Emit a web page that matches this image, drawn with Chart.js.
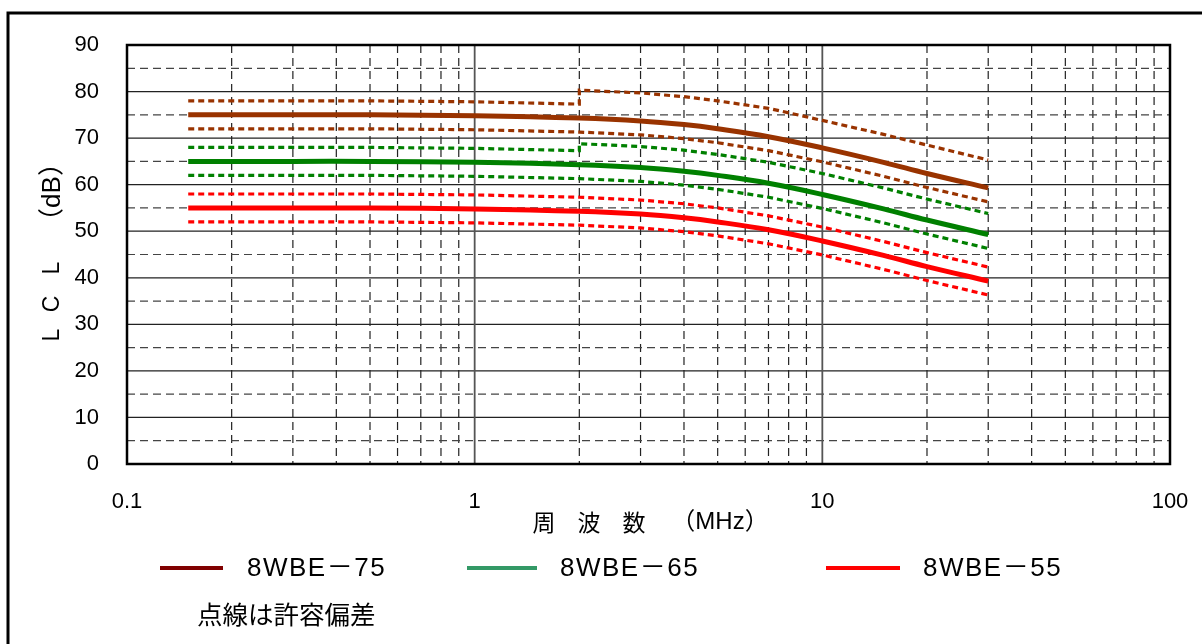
<!DOCTYPE html>
<html>
<head>
<meta charset="utf-8">
<script src="https://cdn.jsdelivr.net/npm/chart.js@4.4.0/dist/chart.umd.min.js"></script>
<style>
  body { margin: 0; background: #fff; }
  #wrap { width: 1202px; height: 644px; }
</style>
</head>
<body>
<div id="wrap"><canvas id="lcl" width="1202" height="644"></canvas></div>
<script>
// LCL vs frequency, 8WBE cables
const freq = [0.15, 0.3, 0.5, 1, 2, 3, 4, 5, 7, 10, 15, 20, 30];
const freqStep = [0.15, 0.3, 0.5, 1, 2, 2, 3, 4, 5, 7, 10, 15, 20, 30];

const lcl75 = [75, 75, 75, 74.8, 74.3, 73.7, 72.9, 72.0, 70.3, 67.9, 64.8, 62.4, 59.3];
const lcl65 = [65, 65, 65, 64.8, 64.3, 63.7, 62.9, 62.0, 60.3, 57.9, 54.8, 52.4, 49.3];
const lcl55 = [55, 55, 55, 54.8, 54.3, 53.7, 52.9, 52.0, 50.3, 47.9, 44.8, 42.4, 39.3];

// tolerance (dotted); upper limits of 75 and 65 step up at 2 MHz
const upper75 = [78, 78, 78, 77.8, 77.3, 80.3, 79.7, 78.9, 78.0, 76.4, 73.8, 70.8, 68.5, 65.3];
const lower75 = [72, 72, 72, 71.8, 71.3, 70.7, 69.9, 69.0, 67.3, 64.9, 61.8, 59.4, 56.3];
const upper65 = [68, 68, 68, 67.8, 67.3, 68.8, 68.2, 67.4, 66.5, 64.8, 62.4, 59.3, 56.9, 53.8];
const lower65 = [62, 62, 62, 61.8, 61.3, 60.7, 59.9, 59.0, 57.3, 54.9, 51.8, 49.4, 46.3];
const upper55 = [58, 58, 58, 57.8, 57.3, 56.7, 55.9, 55.0, 53.3, 50.9, 47.8, 45.4, 42.3];
const lower55 = [52, 52, 52, 51.8, 51.3, 50.7, 49.9, 49.0, 47.3, 44.9, 41.8, 39.4, 36.3];

const xTicks = [0.1, 1, 10, 100];
const yTicks = [0, 10, 20, 30, 40, 50, 60, 70, 80, 90];
const xMajorGrid = [1, 10];
const xMinorGrid = [0.2, 0.3, 0.4, 0.5, 0.6, 0.7, 0.8, 0.9, 2, 3, 4, 5, 6, 7, 8, 9, 20, 30, 40, 50, 60, 70, 80, 90];
const yMajorGrid = [10, 20, 30, 40, 50, 60, 70, 80];
const yMinorGrid = [5, 15, 25, 35, 45, 55, 65, 75, 85];

const seriesNames = ['8WBE－75', '8WBE－65', '8WBE－55'];
const legendColors = ['#800000', '#339966', '#ff0000'];
const BROWN = '#993300', GREEN = '#008000', RED = '#ff0000';

const pts = (xs, ys) => xs.map((x, i) => ({ x: x, y: ys[i] }));

function mainLine(label, data, color) {
  return { label: label, data: pts(freq, data), borderColor: color, borderWidth: 5,
    tension: 0.4, pointRadius: 0, showLine: true, order: 1 };
}
function tolLine(xs, data, color) {
  return { data: pts(xs, data), borderColor: color, borderWidth: 3.2, borderDash: [6, 4],
    tension: 0, pointRadius: 0, showLine: true, order: 2 };
}

const decor = {
  id: 'decor',
  beforeDraw(chart) {
    const c = chart.ctx;
    c.save();
    c.fillStyle = '#fff';
    c.fillRect(0, 0, chart.width, chart.height);
    c.strokeStyle = '#000';
    c.lineWidth = 3;
    c.beginPath();
    c.moveTo(8, 700); c.lineTo(8, 13); c.lineTo(chart.width + 5, 13);
    c.stroke();
    c.restore();
  },
  beforeDatasetsDraw(chart) {
    const c = chart.ctx, a = chart.chartArea, xs = chart.scales.x, ys = chart.scales.y;
    c.save();
    // minor dashed
    c.setLineDash([8, 5]);
    c.strokeStyle = '#222';
    c.lineWidth = 1.2;
    xMinorGrid.forEach(v => {
      const px = xs.getPixelForValue(v);
      c.beginPath(); c.moveTo(px, a.top); c.lineTo(px, a.bottom); c.stroke();
    });
    c.setLineDash([8, 5]);
    c.strokeStyle = '#444';
    yMinorGrid.forEach(v => {
      const py = ys.getPixelForValue(v);
      c.beginPath(); c.moveTo(a.left, py); c.lineTo(a.right, py); c.stroke();
    });
    // major solid
    c.setLineDash([]);
    c.strokeStyle = '#222';
    c.lineWidth = 1.3;
    yMajorGrid.forEach(v => {
      const py = ys.getPixelForValue(v);
      c.beginPath(); c.moveTo(a.left, py); c.lineTo(a.right, py); c.stroke();
    });
    c.strokeStyle = '#555';
    c.lineWidth = 1.8;
    xMajorGrid.forEach(v => {
      const px = xs.getPixelForValue(v);
      c.beginPath(); c.moveTo(px, a.top); c.lineTo(px, a.bottom); c.stroke();
    });
    c.restore();
  },
  afterDatasetsDraw(chart) {
    const c = chart.ctx, a = chart.chartArea;
    c.save();
    c.strokeStyle = '#000';
    c.lineWidth = 2.5;
    c.strokeRect(a.left, a.top, a.right - a.left, a.bottom - a.top);
    c.restore();
  },
  afterDraw(chart) {
    const c = chart.ctx;
    c.save();
    c.fillStyle = '#000';
    c.textBaseline = 'middle';
    c.textAlign = 'center';
    // y title, rotated
    [['L', 335, 23], ['C', 304, 23], ['L', 268, 23], ['（dB）', 192, 26]].forEach(([t, py, fs]) => {
      c.save();
      c.font = fs + 'px "Liberation Sans", "Noto Sans CJK JP"';
      c.translate(53, py);
      c.rotate(-Math.PI / 2);
      c.fillText(t, 0, 0);
      c.restore();
    });
    // x title
    c.font = '23px "Noto Sans CJK JP"';
    [['周', 544], ['波', 589], ['数', 634]].forEach(([t, px]) => c.fillText(t, px, 522));
    c.font = '24px "Liberation Sans", "Noto Sans CJK JP"';
    c.fillText('（MHz）', 720, 522);
    // legend
    const lx = [[160, 223, 247], [467, 537, 560], [826, 900, 923]];
    lx.forEach((p, i) => {
      c.strokeStyle = legendColors[i];
      c.lineWidth = 4;
      c.beginPath(); c.moveTo(p[0], 568); c.lineTo(p[1], 568); c.stroke();
      c.textAlign = 'left';
      c.font = '26px "Liberation Sans", "Noto Sans CJK JP"';
      c.letterSpacing = '1.5px';
      c.fillText(seriesNames[i], p[2], 569);
      c.letterSpacing = '0px';
    });
    c.font = '25.5px "Noto Sans CJK JP"';
    c.fillText('点線は許容偏差', 197, 614);
    c.restore();
  }
};

new Chart(document.getElementById('lcl'), {
  type: 'scatter',
  data: {
    datasets: [
      tolLine(freqStep, upper75, BROWN),
      tolLine(freq, lower75, BROWN),
      tolLine(freqStep, upper65, GREEN),
      tolLine(freq, lower65, GREEN),
      tolLine(freq, upper55, RED),
      tolLine(freq, lower55, RED),
      mainLine(seriesNames[0], lcl75, BROWN),
      mainLine(seriesNames[1], lcl65, GREEN),
      mainLine(seriesNames[2], lcl55, RED)
    ]
  },
  options: {
    responsive: false,
    animation: false,
    layout: { padding: { left: 0, top: 45, right: 32, bottom: 0 } },
    plugins: { legend: { display: false }, tooltip: { enabled: false } },
    scales: {
      x: {
        type: 'logarithmic',
        min: 0.1,
        max: 100,
        afterBuildTicks: s => { s.ticks = xTicks.map(v => ({ value: v })); },
        afterFit: s => { s.height = 180; s.paddingLeft = 0; s.paddingRight = 0; },
        grid: { display: false, drawTicks: false },
        border: { display: false },
        ticks: {
          autoSkip: false,
          maxRotation: 0,
          padding: 25,
          color: '#000',
          font: { family: '"Liberation Sans"', size: 22 },
          callback: v => String(v)
        }
      },
      y: {
        min: 0,
        max: 90,
        afterBuildTicks: s => { s.ticks = yTicks.map(v => ({ value: v })); },
        afterFit: s => { s.width = 127; s.paddingTop = 0; s.paddingBottom = 0; },
        grid: { display: false, drawTicks: false },
        border: { display: false },
        ticks: {
          padding: 28,
          color: '#000',
          font: { family: '"Liberation Sans"', size: 22 },
          callback: v => String(v)
        }
      }
    }
  },
  plugins: [decor]
});
</script>
</body>
</html>
